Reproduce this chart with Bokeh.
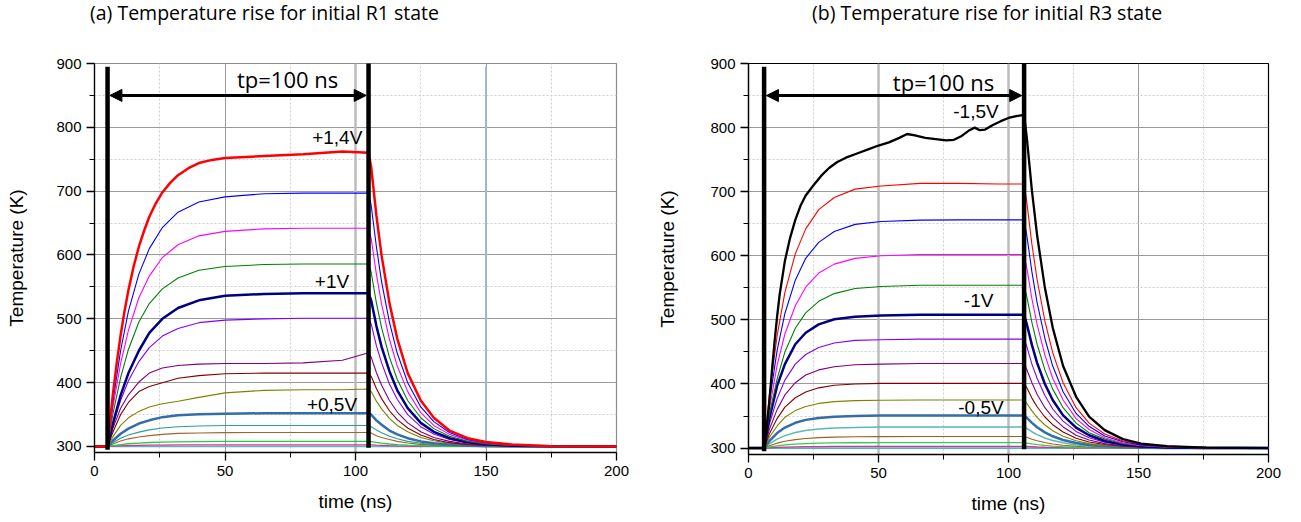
from bokeh.plotting import figure
from bokeh.layouts import row, column
from bokeh.models import FixedTicker, Arrow, NormalHead, Range1d, Div, Span
from bokeh.core.properties import value
from bokeh.embed import file_html
from bokeh.resources import INLINE

# ---------------- data ----------------
X_TICKS = [0, 50, 100, 150, 200]
X_MINOR = [25, 75, 125, 175]
Y_TICKS = [300, 400, 500, 600, 700, 800, 900]
Y_MINOR = [350, 450, 550, 650, 750, 850]

TITLE_A = "(a) Temperature rise for initial R1 state"
TITLE_B = "(b) Temperature rise for initial R3 state"

# panel (a): time grid (ns) and temperatures (K)
TIME_A = [0, 5, 7, 10, 13, 17, 21, 26, 32, 40, 50, 65, 80, 95, 105,
          106, 108, 110, 113, 116, 120, 125, 130, 136, 143, 150, 160, 175, 200]
TIME_A_RED = [0, 5, 6, 7, 8.5, 10, 11.5, 13, 15, 17, 19, 21, 23.5, 26, 29, 32, 36, 40, 45, 50,
              65, 80, 95, 105, 106, 108, 110, 113, 116, 120, 125, 130, 136, 143, 150, 160, 175, 200]
A_RED = [300, 300, 342, 380, 430, 474, 512, 545, 582, 613, 638, 660, 681, 698, 713, 725, 736, 744, 749, 752,
         755, 758, 762, 760, 738, 662, 599, 525, 469, 415, 372, 345, 325, 313, 307, 303, 300.5, 300]
A_BLUE = [300, 300, 369, 450, 512, 570, 610, 643, 667, 683, 691, 696, 697, 697, 697,
          678, 613, 558, 495, 446, 400, 362, 339, 322, 311, 306, 302, 300.4, 300]
A_MAGENTA = [300, 300, 360, 430, 482, 533, 567, 596, 616, 630, 637, 641, 642, 642, 642,
             626, 570, 523, 468, 426, 386, 353, 333, 319, 310, 305, 302, 300.3, 300]
A_GREEN = [300, 300, 350, 408, 452, 495, 524, 547, 564, 576, 582, 585, 586, 586, 586,
           573, 525, 486, 440, 405, 372, 345, 328, 316, 308, 304, 301.6, 300.3, 300]
A_NAVY = [300, 300, 335, 380, 415, 450, 478, 500, 517, 529, 536, 539, 540, 540, 540,
          529, 489, 456, 418, 388, 360, 337, 323, 313, 306.7, 303.4, 301.3, 300.2, 300]
A_VIOLET = [300, 300, 333, 372, 403, 433, 455, 473, 485, 494, 498, 500, 501, 501, 501,
            492, 458, 431, 398, 374, 350, 331, 319.5, 311, 305.6, 302.9, 301.1, 300.2, 300]
A_PURPLE = [300, 300, 328, 360, 381, 401, 415, 423, 427, 429, 430, 430, 431, 435, 447,
            440, 416, 396, 372, 354, 337, 323, 314, 308, 304, 302, 300.8, 300.1, 300]
A_MAROON = [300, 300, 322, 350, 369, 386, 394, 400, 407, 411, 414, 415, 415, 415, 415,
            410, 391, 375, 356, 342, 329, 318, 311, 306, 303, 301.6, 300.6, 300.1, 300]
A_OLIVE = [300, 300, 315, 333, 345, 355, 362, 367, 371, 377, 384, 388, 389, 389, 390,
           386, 371, 359, 344, 333, 323, 314, 309, 305, 302.5, 301.3, 300.5, 300, 300]
A_STEEL = [300, 300, 309, 320, 328, 336, 341, 346, 349, 350.5, 351.5, 352, 352, 352, 352,
           350, 341, 334, 325, 319, 313, 308, 305, 303, 301.5, 300.7, 300.3, 300, 300]
A_TEAL = [300, 300, 306, 313, 318, 322.5, 326, 329, 331, 332, 333, 333, 333, 333, 333,
          331, 326, 321.5, 316, 312, 308, 305, 303, 302, 301, 300.5, 300.2, 300, 300]
A_BROWN = [300, 300, 304, 308.5, 312, 315, 317, 319, 320.5, 321.2, 321.7, 322, 322, 322, 322,
           321, 317, 314, 311, 308, 305.5, 303.4, 302.1, 301.2, 300.6, 300.3, 300.1, 300, 300]
A_LIME = [300, 300, 301.4, 303, 304.3, 305.4, 306.3, 307, 307.4, 307.7, 307.9, 308, 308, 308, 308,
          307.6, 306.3, 305.2, 303.9, 302.9, 302, 301.2, 300.8, 300.4, 300.2, 300.1, 300, 300, 300]
A_PINK = [300, 300, 300.5, 301, 301.4, 301.8, 302.1, 302.3, 302.5, 302.6, 302.7, 302.7, 302.7, 302.7, 302.7,
          302.6, 302.1, 301.8, 301.3, 301, 300.7, 300.4, 300.3, 300.1, 300.1, 300, 300, 300, 300]
BASE_TIME = [0, 200]
BASE_TEMP = [300, 300]

# panel (b)
TIME_B = [0, 6, 8, 11, 14, 18, 22, 27, 33, 41, 51, 66, 81, 96, 106,
          107, 109, 111, 114, 117, 121, 126, 131, 137, 144, 151, 161, 176, 200]
TIME_B_BLACK = [0, 6, 7, 8, 9, 10, 11, 12, 14, 16, 18, 20, 22, 25, 28, 31, 34, 38, 42, 46,
                50, 54, 58, 61, 64, 68, 72, 76, 79, 82, 85, 87, 89, 91, 94, 97, 100, 103, 106, 107,
                109, 111, 114, 117, 121, 126, 131, 137, 144, 151, 161, 176, 200]
B_BLACK = [300, 300, 330, 372, 420, 465, 505, 540, 592, 628, 656, 678, 694, 710, 725, 737, 746, 754, 760, 766,
           772, 777, 784, 790, 788, 784, 782, 780, 781, 787, 796, 800, 796, 797, 804, 810, 815, 818, 820, 786,
           702, 632, 550, 488, 428, 380, 349, 328, 314, 307, 303, 300.7, 300]
B_RED = [300, 300, 382, 475, 543, 603, 642, 672, 691, 704, 709, 713, 713, 712, 712,
         685, 618, 563, 498, 449, 402, 363, 339, 322, 311, 306, 302.3, 300.5, 300]
B_BLUE = [300, 300, 371, 452, 510, 562, 596, 621, 638, 649, 653.5, 655.6, 656, 656, 656,
          633, 575, 527, 471, 428, 388, 354, 334, 319, 310, 305, 302, 300.5, 300]
B_MAGENTA = [300, 300, 360, 429, 478, 522, 551, 573, 587, 596, 600, 602, 602, 602, 602,
             582, 533, 493, 445, 409, 375, 346, 329, 316, 308, 304, 301.7, 300.4, 300]
B_GREEN = [300, 300, 351, 408, 450, 487, 511, 529, 541, 549, 552, 554, 554, 554, 554,
           537, 496, 462, 422, 392, 363, 339, 324, 314, 307, 303.6, 301.4, 300.3, 300]
B_NAVY = [300, 300, 346, 397, 431, 462, 480, 493, 501, 505, 507, 508, 508, 508, 508,
          494, 461, 433, 400, 375, 351, 332, 320, 311, 305.7, 303, 301.1, 300.3, 300]
B_VIOLET = [300, 300, 337, 377, 406, 431, 446, 457, 464, 468, 469, 470, 470, 470, 470,
            459, 431, 409, 382, 361, 342, 326, 316, 309, 304.7, 302.4, 300.9, 300.2, 300]
B_PURPLE = [300, 300, 329, 360, 383, 402, 414, 422, 427, 430, 431, 432, 432, 432, 432,
            423, 402, 384, 363, 348, 333, 320, 312.5, 307, 303.6, 301.9, 300.7, 300.2, 300]
B_MAROON = [300, 300, 322, 346, 364, 378.5, 387.5, 394, 398, 400, 401, 401, 401, 401, 401,
            394.4, 378, 364.5, 348.5, 336.5, 325, 315.5, 309.6, 305.5, 302.8, 301.4, 300.6, 300.1, 300]
B_OLIVE = [300, 300, 316.5, 334.5, 348, 358.5, 365, 369.7, 372.5, 374, 374.7, 375, 375, 375, 375,
           370, 358, 348, 336, 327, 318.5, 311.5, 307, 304, 302, 301, 300.4, 300.1, 300]
B_STEEL = [300, 300, 311, 323.5, 332, 339.5, 344, 347, 349, 350.2, 350.7, 351, 351, 351, 351,
           347.7, 339.4, 332.6, 324.5, 318.4, 312.6, 307.8, 304.8, 302.8, 301.4, 300.7, 300.3, 300, 300]
B_TEAL = [300, 300, 306.6, 314, 319.4, 324.3, 327.4, 329.8, 331.4, 332.3, 332.8, 333, 333, 333, 333,
          330.9, 325.5, 321, 315.8, 311.9, 308.2, 305, 303.1, 301.8, 300.9, 300.5, 300.2, 300, 300]
B_BROWN = [300, 300, 303.6, 307.7, 310.6, 313.2, 315, 316.3, 317.1, 317.6, 317.9, 318, 318, 318, 318,
           316.8, 313.9, 311.5, 308.6, 306.5, 304.4, 302.8, 301.7, 301, 300.5, 300.3, 300.1, 300, 300]
B_LIME = [300, 300, 301.7, 303.6, 305, 306.3, 307.1, 307.7, 308.1, 308.3, 308.4, 308.5, 308.5, 308.5, 308.5,
          307.9, 306.6, 305.4, 304.1, 303.1, 302.1, 301.3, 300.8, 300.5, 300.2, 300.1, 300, 300, 300]
B_PINK = [300, 300, 300.5, 301.1, 301.6, 302, 302.2, 302.4, 302.6, 302.7, 302.7, 302.7, 302.7, 302.7, 302.7,
          302.5, 302.1, 301.7, 301.3, 301, 300.7, 300.4, 300.3, 300.1, 300, 300, 300, 300, 300]

# pulse markers and annotations
PULSE_A = [5, 105]
PULSE_B = [6, 106]
ARROW_Y = 850
TP_TEXT = "tp=100 ns"
TP_POS_A = (74, 875)
TP_POS_B = (75, 871)
LABELS_A = ["+1,4V", "+1V", "+0,5V"]
LABELS_A_X = [93, 91, 91]
LABELS_A_Y = [784, 559, 366]
LABELS_B = ["-1,5V", "-1V", "-0,5V"]
LABELS_B_X = [87.5, 88.5, 89.4]
LABELS_B_Y = [825, 530, 364]
MARKER_A_X = 150
LIGHT_GRID_A = [100]
LIGHT_GRID_B = [50, 100]

TICK_FONT = "Liberation Sans"
TITLE_FONT = "Open Sans"


def make_panel(fw, fh, ymin, borders, outline, label_standoff, light_grid):
    bl, br, bt, bb = borders
    p = figure(frame_width=fw, frame_height=fh,
               x_range=Range1d(0, 200), y_range=Range1d(ymin, 900),
               output_backend="svg", toolbar_location=None,
               min_border_left=bl, min_border_right=br,
               min_border_top=bt, min_border_bottom=bb)
    p.background_fill_color = "white"
    p.border_fill_color = "white"
    p.outline_line_color = outline
    p.outline_line_width = 1.2

    xt = FixedTicker(ticks=X_TICKS, minor_ticks=X_MINOR)
    yt = FixedTicker(ticks=Y_TICKS, minor_ticks=Y_MINOR)
    p.xaxis.ticker = xt
    p.yaxis.ticker = yt
    p.xgrid.ticker = xt
    p.ygrid.ticker = yt
    for g in (p.xgrid, p.ygrid):
        g.grid_line_color = "#9a9a9a"
        g.grid_line_width = 1
        g.minor_grid_line_color = "#cfcfcf"
        g.minor_grid_line_dash = "2 2"
        g.minor_grid_line_width = 1
    for xv in light_grid:
        p.add_layout(Span(location=xv, dimension="height", line_color="#bcbcbc",
                          line_width=2.5, level="underlay"))
    for ax in (p.xaxis, p.yaxis):
        ax.axis_line_color = "black"
        ax.axis_line_width = 1.3
        ax.major_tick_line_color = "black"
        ax.major_tick_line_width = 1.3
        ax.minor_tick_line_color = "black"
        ax.major_tick_out = 8
        ax.major_tick_in = 0
        ax.minor_tick_out = 5
        ax.minor_tick_in = 0
        ax.major_label_text_font = TICK_FONT
        ax.major_label_text_font_size = "15px"
        ax.major_label_text_color = "black"
        ax.axis_label_text_font = TICK_FONT
        ax.axis_label_text_font_size = "19px"
        ax.axis_label_text_font_style = "normal"
        ax.axis_label_text_color = "black"
    p.xaxis.axis_label = "time (ns)"
    p.xaxis.axis_label_standoff = 12
    p.yaxis.axis_label = "Temperature (K)"
    p.yaxis.axis_label_standoff = label_standoff
    return p


def add_pulse(p, pulse, tp_pos):
    # thick vertical pulse boundaries
    p.segment(x0=[pulse[0], pulse[1]], y0=[295, 298], x1=[pulse[0], pulse[1]], y1=[895, 905],
              line_color="black", line_width=4.5)
    head = dict(size=12, fill_color="black", line_color="black")
    p.add_layout(Arrow(start=NormalHead(**head), end=NormalHead(**head),
                       x_start=pulse[0] + 0.9, y_start=ARROW_Y, x_end=pulse[1] - 0.9, y_end=ARROW_Y,
                       line_color="black", line_width=3))
    p.text(x=[tp_pos[0]], y=[tp_pos[1]], text=[TP_TEXT], text_font=value(TITLE_FONT),
           text_font_size="22px", text_align="center", text_baseline="middle", text_color="black")


# ---------------- panel (a) ----------------
pa = make_panel(522, 389, 290.6, (94, 38, 37, 62), "#8c8c8c", 26, LIGHT_GRID_A)
pa.segment(x0=[MARKER_A_X], y0=[297], x1=[MARKER_A_X], y1=[895], line_color="#9db4dc", line_width=2)
series_a = [
    (BASE_TIME, BASE_TEMP, "#5ab4c8", 1.5),
    (TIME_A, A_PINK, "#e0308a", 1.3),
    (TIME_A, A_LIME, "#22cc44", 1.3),
    (TIME_A, A_BROWN, "#a0642d", 1.1),
    (TIME_A, A_TEAL, "#2a9d9d", 1.1),
    (TIME_A, A_STEEL, "#336eaa", 2.5),
    (TIME_A, A_OLIVE, "#808000", 1.1),
    (TIME_A, A_MAROON, "#800000", 1.1),
    (TIME_A, A_PURPLE, "#800080", 1.1),
    (TIME_A, A_VIOLET, "#8000ff", 1.1),
    (TIME_A, A_NAVY, "#000080", 2.5),
    (TIME_A, A_GREEN, "#008000", 1.1),
    (TIME_A, A_MAGENTA, "#ff00ff", 1.1),
    (TIME_A, A_BLUE, "#0000ff", 1.1),
    (TIME_A_RED, A_RED, "#ff0000", 2.5),
]
for xs, ys, c, w in series_a:
    pa.line(xs, ys, line_color=c, line_width=w)
add_pulse(pa, PULSE_A, TP_POS_A)
pa.text(x=LABELS_A_X, y=LABELS_A_Y, text=LABELS_A, text_font=value(TICK_FONT),
        text_font_size="19px", text_align="center", text_baseline="middle", text_color="black")

# ---------------- panel (b) ----------------
pb = make_panel(520, 391, 290, (90, 20, 37, 60), "black", 29, LIGHT_GRID_B)
series_b = [
    (BASE_TIME, BASE_TEMP, "#40b8d0", 1.6),
    (TIME_B, B_PINK, "#e0308a", 1.3),
    (TIME_B, B_LIME, "#33cc55", 1.3),
    (TIME_B, B_BROWN, "#a0601a", 1.1),
    (TIME_B, B_TEAL, "#5cb8b8", 1.5),
    (TIME_B, B_STEEL, "#336eaa", 2.5),
    (TIME_B, B_OLIVE, "#808000", 1.1),
    (TIME_B, B_MAROON, "#800000", 1.1),
    (TIME_B, B_PURPLE, "#800080", 1.1),
    (TIME_B, B_VIOLET, "#8000ff", 1.1),
    (TIME_B, B_NAVY, "#000080", 2.5),
    (TIME_B, B_GREEN, "#008000", 1.1),
    (TIME_B, B_MAGENTA, "#ff00ff", 1.1),
    (TIME_B, B_BLUE, "#0000ff", 1.1),
    (TIME_B, B_RED, "#ff0000", 1.1),
    (TIME_B_BLACK, B_BLACK, "#000000", 2.3),
]
for xs, ys, c, w in series_b:
    pb.line(xs, ys, line_color=c, line_width=w)
add_pulse(pb, PULSE_B, TP_POS_B)
pb.text(x=LABELS_B_X, y=LABELS_B_Y, text=LABELS_B, text_font=value(TICK_FONT),
        text_font_size="19px", text_align="center", text_baseline="middle", text_color="black")

# panel headings
heading_html = (
    '<div style="white-space:nowrap;font-family:\'Open Sans\';font-size:19.5px;'
    'line-height:26px;color:black;margin:0;padding:0">'
    '<span style="display:inline-block;box-sizing:border-box;width:812px;padding-left:90px">'
    + TITLE_A + '</span><span>' + TITLE_B + '</span></div>'
)
heading = Div(text=heading_html, width=1290, height=26, margin=(0, 0, 0, 0))

layout = column(heading, row(pa, pb), spacing=0)
open("out.html", "w").write(file_html(layout, INLINE))
